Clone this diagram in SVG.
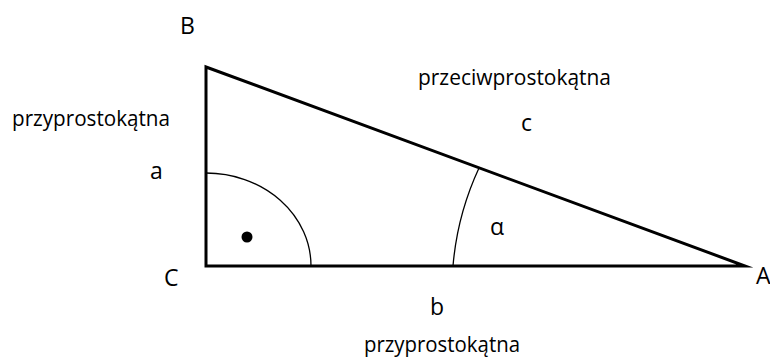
<svg xmlns="http://www.w3.org/2000/svg" width="770" height="358" viewBox="0 0 770 358">
<style>
.t{font-family:"Open Sans","Liberation Sans",sans-serif;font-size:21px;fill:#000}
.l{font-family:"Open Sans","Liberation Sans",sans-serif;font-size:23px;fill:#000}
.arc{fill:none;stroke:#000;stroke-width:1.3}
</style>
<rect width="770" height="358" fill="#fff"/>
<g id="triangle">
<polygon points="206,67 206,266 745,266" fill="none" stroke="#000" stroke-width="3" stroke-linejoin="miter" stroke-miterlimit="20"/>
</g>
<g id="right-angle">
<path class="arc" d="M206,173 A105,93 0 0 1 311,266"/>
<circle cx="247" cy="237" r="5.5" fill="#000"/>
</g>
<g id="alpha-angle">
<path class="arc" d="M479,168 A290,290 0 0 0 453,266"/>
<text class="l" x="490" y="235">α</text>
</g>
<g id="labels">
<text class="l" x="180" y="34">B</text>
<text class="l" x="164" y="286">C</text>
<text class="l" x="756" y="284">A</text>
<text class="t" x="12" y="126" textLength="158" lengthAdjust="spacingAndGlyphs">przyprostokątna</text>
<text class="l" x="150" y="179">a</text>
<text class="t" x="418" y="85" textLength="193" lengthAdjust="spacingAndGlyphs">przeciwprostokątna</text>
<text class="l" x="521" y="131">c</text>
<text class="l" x="430" y="315">b</text>
<text class="t" x="364" y="352" textLength="156" lengthAdjust="spacingAndGlyphs">przyprostokątna</text>
</g>
</svg>
